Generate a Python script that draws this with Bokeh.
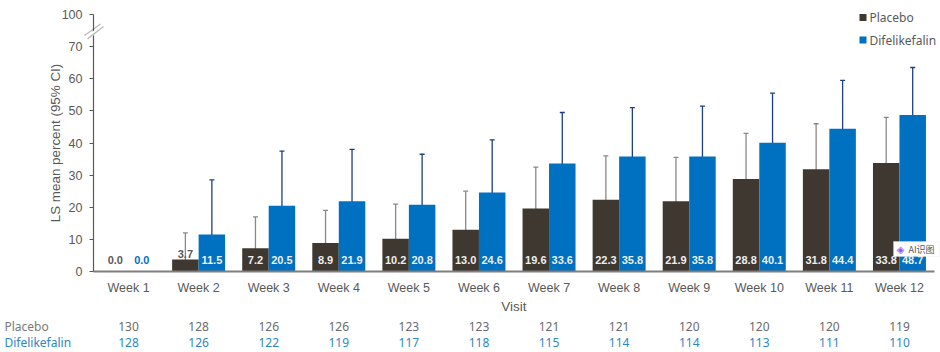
from bokeh.plotting import figure
from bokeh.models import ColumnDataSource, FixedTicker, Label, PolyAnnotation, Whisker, TeeHead
from bokeh.embed import file_html
from bokeh.resources import INLINE

weeks = ["Week %d" % i for i in range(1, 13)]
placebo = [0.0, 3.7, 7.2, 8.9, 10.2, 13.0, 19.6, 22.3, 21.9, 28.8, 31.8, 33.8]
difelikefalin = [0.0, 11.5, 20.5, 21.9, 20.8, 24.6, 33.6, 35.8, 35.8, 40.1, 44.4, 48.7]
placebo_upper = [None, 12, 17, 19, 21, 25, 32.5, 36, 35.5, 43, 46, 48]
placebo_lower = [None, 1, 3, 4, 5, 6.5, 10.5, 13, 12, 18, 20.5, 22]
difelikefalin_upper = [None, 28.5, 37.5, 38, 36.5, 41, 49.5, 51, 51.5, 55.5, 59.5, 63.5]
difelikefalin_lower = [None, 4, 10, 11, 10.5, 13, 20.5, 22.5, 22.5, 26.5, 30.5, 34]
placebo_n = [130, 128, 126, 126, 123, 123, 121, 121, 120, 120, 120, 119]
difelikefalin_n = [128, 126, 122, 119, 117, 118, 115, 114, 114, 113, 111, 110]
y_ticks = [0, 10, 20, 30, 40, 50, 60, 70, 80]
y_labels = {80: "100"}

DARK = "#3f3830"
BLUE = "#0070c0"
TXT = "#595959"
FONT = "Liberation Sans"
LEG = "Noto Sans"
W, H = 940, 352
BW = 0.378
idx = list(range(1, 13))
X_PX = 70.083
Y_PX = 3.2125
AX_L, AX_R, AX_B = 93, 934, 271
x_start = 0.5 - AX_L / X_PX
x_end = 0.5 + (W - AX_L) / X_PX
y_start = -(H - AX_B) / Y_PX
y_end = AX_B / Y_PX


def sx(px):
    return px


def sy(top):
    return H - top


p = figure(width=W, height=H, output_backend="svg", toolbar_location=None,
           x_range=(x_start, x_end), y_range=(y_start, y_end),
           min_border=0, min_border_left=0, min_border_right=0, min_border_top=0, min_border_bottom=0,
           background_fill_color="white", border_fill_color="white", outline_line_color=None)
p.styles = {"position": "absolute", "left": "0px", "top": "0px"}
p.grid.visible = False

src = ColumnDataSource(dict(x=idx, x_p=[i - BW / 2 for i in idx], x_d=[i + BW / 2 for i in idx],
                            placebo=placebo, difelikefalin=difelikefalin,
                            pu=placebo_upper, pl=placebo_lower,
                            du=difelikefalin_upper, dl=difelikefalin_lower))
p.vbar(x="x_p", top="placebo", width=BW, source=src, color=DARK, line_color=None)
p.vbar(x="x_d", top="difelikefalin", width=BW, source=src, color=BLUE, line_color=None)

for base, up, lo, col in (("x_p", "pu", "pl", "#8e8686"), ("x_d", "du", "dl", "#1c3f87")):
    n = [i for i in range(12) if placebo_upper[i] is not None]
    s = ColumnDataSource(dict(x=[src.data[base][i] for i in n],
                              u=[src.data[up][i] for i in n],
                              l=[src.data[lo][i] for i in n]))
    p.add_layout(Whisker(base="x", upper="u", lower="l", source=s, line_color=col, line_width=1.3,
                         upper_head=TeeHead(size=5, line_color=col, line_width=1.3),
                         lower_head=TeeHead(size=5, line_color=col, line_width=1.3)))

xa = p.xaxis[0]
xa.fixed_location = 0
xa.bounds = (0.5, 12.5)
xa.ticker = FixedTicker(ticks=idx)
xa.major_label_overrides = {i: weeks[i - 1] for i in idx}
xa.major_tick_line_color = None
xa.minor_tick_line_color = None
xa.axis_line_color = "#7f7f7f"
xa.axis_line_width = 2
xa.major_label_text_font = FONT
xa.major_label_text_font_size = "12.5px"
xa.major_label_text_color = TXT
xa.major_label_standoff = 3
xa.axis_label = "Visit"
xa.axis_label_text_font = FONT
xa.axis_label_text_font_size = "13.5px"
xa.axis_label_text_font_style = "normal"
xa.axis_label_text_color = TXT
xa.axis_label_standoff = 1

ya = p.yaxis[0]
ya.fixed_location = 0.5
ya.bounds = (0, 80)
ya.ticker = FixedTicker(ticks=y_ticks)
ya.major_label_overrides = y_labels
ya.major_tick_in = 0
ya.major_tick_out = 4
ya.major_tick_line_color = "#595959"
ya.minor_tick_line_color = None
ya.axis_line_color = "#595959"
ya.axis_line_width = 1.2
ya.major_label_text_font = FONT
ya.major_label_text_font_size = "12.5px"
ya.major_label_text_color = TXT
ya.major_label_standoff = 7
ya.axis_label = "LS mean percent (95% CI)"
ya.axis_label_text_font = FONT
ya.axis_label_text_font_size = "13.4px"
ya.axis_label_text_font_style = "normal"
ya.axis_label_text_color = TXT
ya.axis_label_standoff = -4


def text(x, y, t, x_units="data", y_units="data", color=TXT, font=FONT, size="12px", style="normal",
         align="center", baseline="middle", **kw):
    lab = Label(x=x, y=y, text=t, x_units=x_units, y_units=y_units, text_color=color, text_font=font,
                text_font_size=size, text_font_style=style, text_align=align, text_baseline=baseline, **kw)
    p.add_layout(lab)
    return lab


def poly(xs, ys, **kw):
    p.add_layout(PolyAnnotation(xs=[sx(v) for v in xs], ys=[sy(v) for v in ys],
                                xs_units="screen", ys_units="screen", **kw))


for i, (a, b) in enumerate(zip(placebo, difelikefalin)):
    x = i + 1
    if a == 0:
        text(x - BW / 2, 3.7, "%.1f" % a, color=TXT, style="bold", size="11px")
        text(x + BW / 2, 3.7, "%.1f" % b, color=BLUE, style="bold", size="11px")
    else:
        low = a < 5
        text(x - BW / 2, 5.3 if low else 3.7, "%.1f" % a, color=TXT if low else "#eeeeee", style="bold", size="11px")
        text(x + BW / 2, 3.7, "%.1f" % b, color="#eeeeee", style="bold", size="11px")
    text(x, sy(326), str(placebo_n[i]), y_units="screen", size="12px", color="#6b6b6b", font=LEG)
    text(x, sy(341.5), str(difelikefalin_n[i]), y_units="screen", size="12px", color="#2e86c8", font=LEG)

text(sx(4), sy(326), "Placebo", x_units="screen", y_units="screen", align="left", size="12px", color="#7a7a7a", font=LEG)
text(sx(4), sy(341.5), "Difelikefalin", x_units="screen", y_units="screen", align="left", size="12px", color="#2e86c8", font=LEG)

# axis break
poly([85, 100, 103, 88], [37, 25, 27, 39], fill_color="white", fill_alpha=1, line_color=None)
for xa0, ya0, xa1, ya1 in ((84, 35, 100, 23.5), (87, 38.3, 103, 26)):
    poly([xa0, xa1], [ya0, ya1], fill_alpha=0, line_color="#262626", line_width=1.5)

# legend
for top, col, name in ((17, DARK, "Placebo"), (39.5, BLUE, "Difelikefalin")):
    poly([859, 866, 866, 859], [top - 3.5, top - 3.5, top + 3.5, top + 3.5], fill_color=col, fill_alpha=1, line_color=None)
    text(sx(869), sy(top), name, x_units="screen", y_units="screen", align="left", size="12px", color=TXT, font=LEG)

# floating badge in the reference screenshot
poly([893, 939, 939, 893], [241, 241, 256, 256], fill_color="white", fill_alpha=1, line_color="#e6e6e6")
text(sx(908), sy(249), "AI识图", x_units="screen", y_units="screen", align="left", size="9px", color="#555555",
     font="Noto Sans CJK SC")
text(sx(900), sy(249), "◈", x_units="screen", y_units="screen", size="10px", color="#8a5cf6", font="DejaVu Sans")

open("out.html", "w").write(file_html(p, INLINE))
